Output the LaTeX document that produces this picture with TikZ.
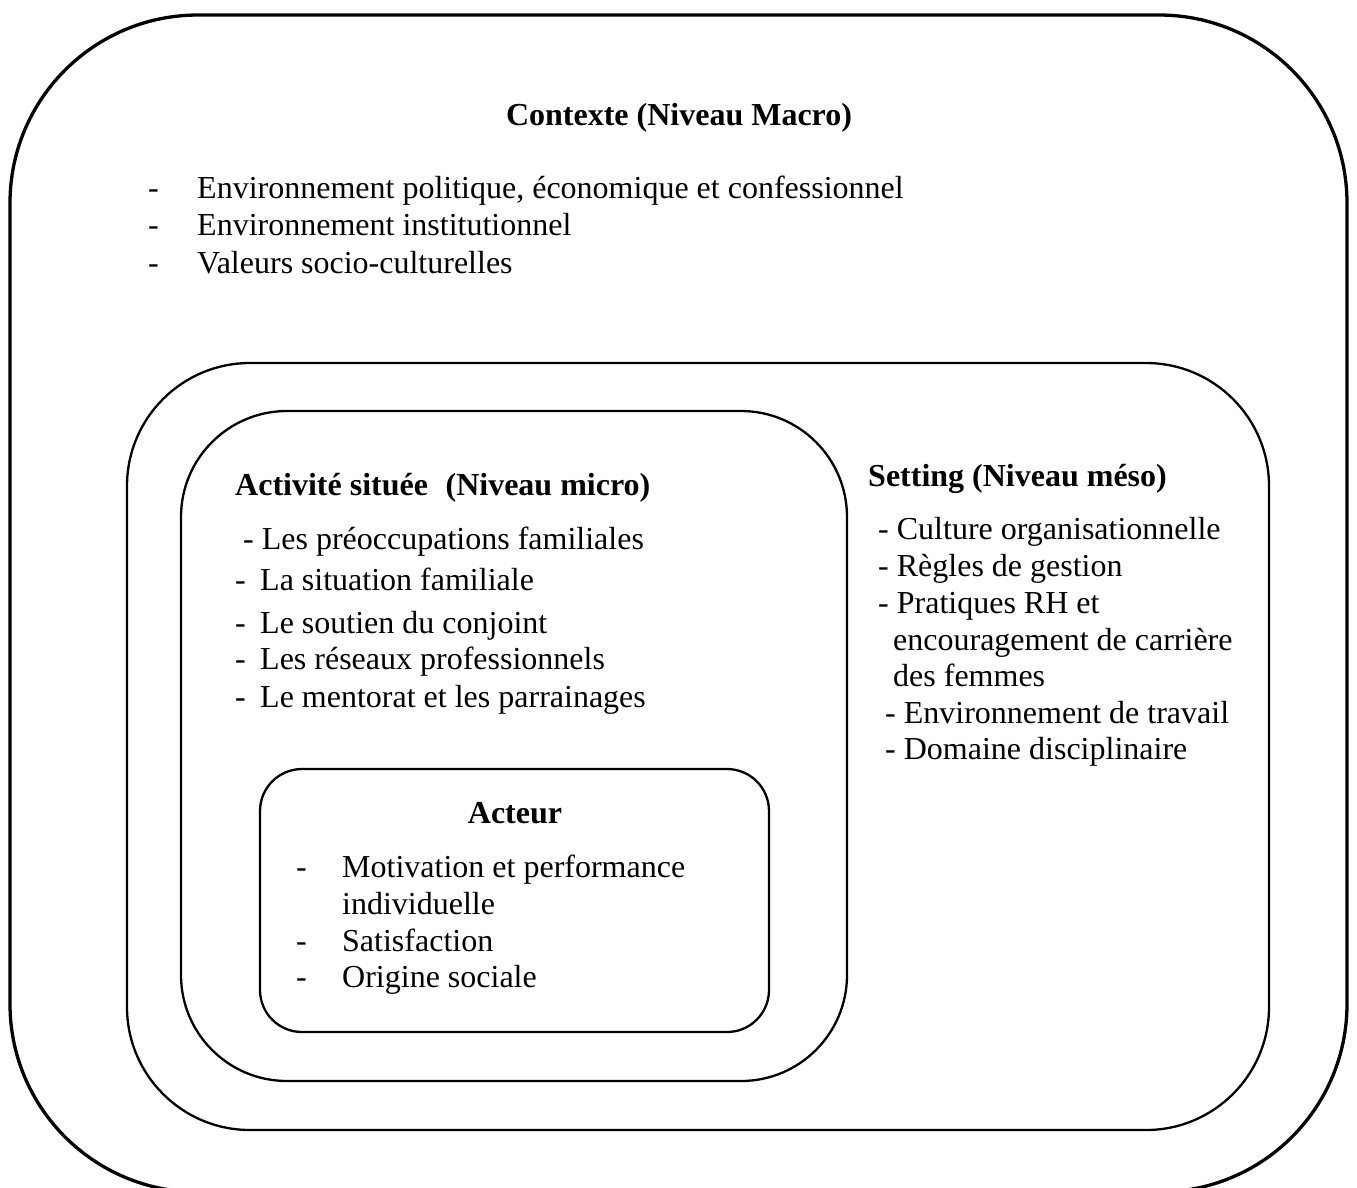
\documentclass[tikz,border=0pt]{standalone}
\usepackage{fontspec}
\setmainfont{Liberation Serif}
\begin{document}
\begin{tikzpicture}[x=1pt,y=-1pt,
  txt/.style={anchor=base west,inner sep=0pt,font=\fontsize{32}{38}\selectfont},
  ttl/.style={anchor=base,inner sep=0pt,font=\fontsize{32}{38}\selectfont\bfseries},
  ttlw/.style={anchor=base west,inner sep=0pt,font=\fontsize{32}{38}\selectfont\bfseries},
  thick box/.style={draw,line width=3.3pt},
  thin box/.style={draw,line width=2.3pt}]
\useasboundingbox (0,0) rectangle (1357,1187);
\clip (0,0) rectangle (1357,1187);
% boxes
\draw[thick box,rounded corners=188pt] (10,15) rectangle (1347,1192);
\draw[thin box,rounded corners=123pt] (127,363) rectangle (1269,1130);
\draw[thin box,rounded corners=106pt] (181,411) rectangle (847,1081);
\draw[thin box,rounded corners=42pt] (260,769) rectangle (769,1032);
% macro
\node[ttl] (macrot) at (679,125) {Contexte (Niveau Macro)};
\node[txt] (md1) at (148,198) {-};
\node[txt] (m1) at (197,198) {Environnement politique, économique et confessionnel};
\node[txt] (md2) at (148,235) {-};
\node[txt] (m2) at (197,235) {Environnement institutionnel};
\node[txt] (md3) at (148,273) {-};
\node[txt] (m3) at (197,273) {Valeurs socio-culturelles};
% micro
\node[ttlw] (microt) at (235,495) {Activité située\hspace{0.3em} (Niveau micro)};
\node[txt] (a1) at (243,549) {- Les préoccupations familiales};
\node[txt] (a2) at (235,590) {-\hspace{0.45em}La situation familiale};
\node[txt] (a3) at (235,633) {-\hspace{0.45em}Le soutien du conjoint};
\node[txt] (a4) at (235,669) {-\hspace{0.45em}Les réseaux professionnels};
\node[txt] (a5) at (235,707) {-\hspace{0.45em}Le mentorat et les parrainages};
% meso
\node[ttlw] (mesot) at (868,486) {Setting (Niveau méso)};
\node[txt] (s1) at (878,539) {- Culture organisationnelle};
\node[txt] (s2) at (878,576) {- Règles de gestion};
\node[txt] (s3) at (878,613) {- Pratiques RH et};
\node[txt] (s4) at (893,650) {encouragement de carrière};
\node[txt] (s5) at (893,686) {des femmes};
\node[txt] (s6) at (885,723) {- Environnement de travail};
\node[txt] (s7) at (885,759) {- Domaine disciplinaire};
% acteur
\node[ttl] (actt) at (515,823) {Acteur};
\node[txt] (bd1) at (296,877) {-};
\node[txt] (b1) at (342,877) {Motivation et performance};
\node[txt] (b2) at (342,914) {individuelle};
\node[txt] (bd3) at (296,951) {-};
\node[txt] (b3) at (342,951) {Satisfaction};
\node[txt] (bd4) at (296,987) {-};
\node[txt] (b4) at (342,987) {Origine sociale};
\end{tikzpicture}
\end{document}
